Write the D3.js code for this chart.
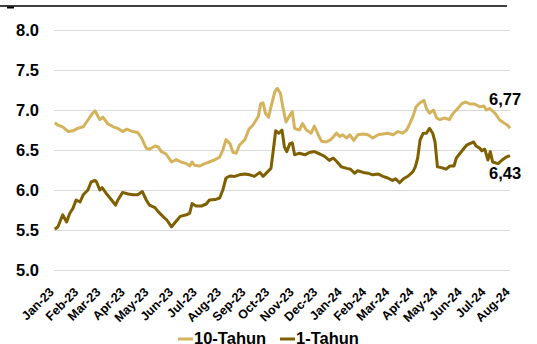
<!DOCTYPE html>
<html>
<head>
<meta charset="utf-8">
<script src="https://cdn.jsdelivr.net/npm/d3@7"></script>
<style>
  html, body { margin: 0; padding: 0; background: #fff; }
  svg { display: block; font-family: "Liberation Sans", Arial, sans-serif; }
</style>
</head>
<body>
<svg id="chart" width="537" height="344"></svg>
<script>
// Month labels on the x axis
const tickLabels = ["Jan-23","Feb-23","Mar-23","Apr-23","May-23","Jun-23","Jul-23","Aug-23",
  "Sep-23","Oct-23","Nov-23","Dec-23","Jan-24","Feb-24","Mar-24","Apr-24","May-24","Jun-24",
  "Jul-24","Aug-24"];
const yTicks = [5.0, 5.5, 6.0, 6.5, 7.0, 7.5, 8.0];

// 10-year yield (%)
const dates10 = ["2023-01-02","2023-01-06","2023-01-12","2023-01-19","2023-01-25","2023-01-31",
  "2023-02-07","2023-02-13","2023-02-19","2023-02-22","2023-02-28","2023-03-04","2023-03-10",
  "2023-03-17","2023-03-23","2023-03-29","2023-04-03","2023-04-11","2023-04-17","2023-04-22",
  "2023-04-28","2023-05-02","2023-05-09","2023-05-13","2023-05-17","2023-05-23","2023-05-30",
  "2023-06-05","2023-06-11","2023-06-18","2023-06-22","2023-06-25","2023-06-28","2023-07-05",
  "2023-07-11","2023-07-17","2023-07-24","2023-07-30","2023-08-03","2023-08-07","2023-08-12",
  "2023-08-16","2023-08-20","2023-08-24","2023-08-31","2023-09-05","2023-09-10","2023-09-17",
  "2023-09-20","2023-09-23","2023-09-26","2023-09-30","2023-10-03","2023-10-08","2023-10-11",
  "2023-10-15","2023-10-18","2023-10-22","2023-10-26","2023-10-30","2023-11-02","2023-11-08",
  "2023-11-12","2023-11-17","2023-11-23","2023-11-27","2023-12-02","2023-12-06","2023-12-12",
  "2023-12-18","2023-12-25","2023-12-29","2024-01-02","2024-01-07","2024-01-11","2024-01-16",
  "2024-01-21","2024-01-28","2024-02-03","2024-02-09","2024-02-16","2024-02-22","2024-02-28",
  "2024-03-06","2024-03-12","2024-03-18","2024-03-23","2024-03-27","2024-03-31","2024-04-04",
  "2024-04-09","2024-04-14","2024-04-17","2024-04-21","2024-04-26","2024-04-30","2024-05-04",
  "2024-05-10","2024-05-16","2024-05-21","2024-05-27","2024-06-01","2024-06-06","2024-06-11",
  "2024-06-17","2024-06-24","2024-06-29","2024-07-02","2024-07-06","2024-07-13","2024-07-19",
  "2024-07-24","2024-07-29","2024-08-01"];
const values10 = [6.84,6.81,6.79,6.73,6.74,6.77,
  6.79,6.875,6.96,6.99,6.88,6.91,6.83,
  6.79,6.77,6.73,6.76,6.73,6.72,6.65,
  6.52,6.51,6.55,6.54,6.48,6.45,6.35,
  6.38,6.35,6.33,6.30,6.35,6.31,6.30,
  6.33,6.35,6.38,6.41,6.50,6.63,6.58,
  6.47,6.46,6.56,6.63,6.76,6.81,6.92,
  7.08,7.09,6.96,6.91,7.04,7.23,7.27,
  7.21,7.04,6.85,6.92,6.98,6.77,6.75,
  6.83,6.75,6.71,6.80,6.69,6.61,6.60,
  6.63,6.71,6.67,6.69,6.65,6.69,6.62,
  6.69,6.70,6.69,6.65,6.69,6.70,6.71,
  6.69,6.73,6.71,6.75,6.83,6.92,7.04,
  7.09,7.12,7.02,6.96,7.00,6.90,6.88,
  6.90,6.88,6.96,7.02,7.08,7.10,7.075,
  7.075,7.04,7.05,7.00,7.02,6.96,6.875,
  6.84,6.81,6.77];

// 1-year yield (%)
const dates1 = ["2023-01-02","2023-01-06","2023-01-12","2023-01-17","2023-01-21","2023-01-25",
  "2023-01-29","2023-02-03","2023-02-07","2023-02-13","2023-02-17","2023-02-22","2023-02-24",
  "2023-02-28","2023-03-03","2023-03-08","2023-03-15","2023-03-20","2023-03-23","2023-03-29",
  "2023-04-05","2023-04-11","2023-04-17","2023-04-23","2023-04-28","2023-05-02","2023-05-09",
  "2023-05-13","2023-05-19","2023-05-24","2023-05-30","2023-06-04","2023-06-10","2023-06-18",
  "2023-06-22","2023-06-25","2023-06-30","2023-07-07","2023-07-13","2023-07-17","2023-07-24",
  "2023-07-30","2023-08-03","2023-08-07","2023-08-12","2023-08-18","2023-08-24","2023-08-31",
  "2023-09-06","2023-09-12","2023-09-19","2023-09-23","2023-09-29","2023-10-03","2023-10-06",
  "2023-10-09","2023-10-13","2023-10-17","2023-10-20","2023-10-23","2023-10-27","2023-10-30",
  "2023-11-02","2023-11-08","2023-11-15","2023-11-21","2023-11-27","2023-12-04","2023-12-10",
  "2023-12-16","2023-12-21","2023-12-26","2023-12-31","2024-01-07","2024-01-12","2024-01-17",
  "2024-01-21","2024-01-28","2024-02-03","2024-02-09","2024-02-16","2024-02-22","2024-02-28",
  "2024-03-05","2024-03-09","2024-03-14","2024-03-19","2024-03-25","2024-03-31","2024-04-03",
  "2024-04-06","2024-04-09","2024-04-13","2024-04-17","2024-04-21","2024-04-25","2024-04-28",
  "2024-05-01","2024-05-06","2024-05-12","2024-05-17","2024-05-22","2024-05-25","2024-05-29",
  "2024-06-02","2024-06-07","2024-06-11","2024-06-16","2024-06-19","2024-06-24","2024-06-26",
  "2024-06-30","2024-07-04","2024-07-07","2024-07-10","2024-07-17","2024-07-22","2024-07-27",
  "2024-08-01"];
const values1 = [5.51,5.54,5.69,5.60,5.71,5.77,
  5.875,5.85,5.94,6.00,6.10,6.12,6.10,
  6.00,6.03,5.96,5.875,5.81,5.875,5.97,
  5.95,5.94,5.94,5.98,5.875,5.81,5.78,
  5.73,5.67,5.625,5.54,5.60,5.67,5.69,
  5.71,5.83,5.80,5.80,5.825,5.875,5.88,
  5.90,6.00,6.15,6.175,6.17,6.19,6.20,
  6.19,6.17,6.22,6.17,6.23,6.27,6.50,
  6.74,6.71,6.75,6.54,6.48,6.58,6.59,
  6.44,6.46,6.44,6.47,6.48,6.45,6.42,
  6.37,6.40,6.35,6.29,6.27,6.26,6.21,
  6.24,6.22,6.21,6.19,6.20,6.17,6.15,
  6.12,6.14,6.09,6.14,6.175,6.23,6.29,
  6.40,6.625,6.71,6.71,6.77,6.71,6.60,
  6.29,6.28,6.26,6.30,6.30,6.40,6.45,
  6.50,6.56,6.58,6.60,6.55,6.52,6.49,
  6.51,6.375,6.48,6.35,6.33,6.375,6.41,
  6.43];

const seriesNames = ["10-Tahun", "1-Tahun"];
const seriesColors = ["#D5B35C", "#7F6000"];

const parseDate = d3.timeParse("%Y-%m-%d");
const parseTick = d3.timeParse("%b-%y");
const series = [
  dates10.map((d, i) => ({ date: parseDate(d), value: values10[i] })),
  dates1.map((d, i) => ({ date: parseDate(d), value: values1[i] }))
];

const svg = d3.select("#chart");
const plot = { left: 54, right: 510, top: 30, bottom: 270 };
const bigFont = "16.5px";

const x = d3.scaleTime()
  .domain([new Date(2023, 0, 1), new Date(2024, 7, 1)])
  .range([plot.left, plot.right]);
const y = d3.scaleLinear().domain([5, 8]).range([plot.bottom, plot.top]);

// Top rule
svg.append("line")
  .attr("x1", 0).attr("x2", 507).attr("y1", 6).attr("y2", 6)
  .attr("stroke", "#000").attr("stroke-width", 1.5);
svg.append("rect")
  .attr("x", 7).attr("y", 6.5).attr("width", 7).attr("height", 2)
  .attr("fill", "#000");

// Horizontal gridlines + y labels
const yAxis = d3.axisLeft(y)
  .tickValues(yTicks)
  .tickFormat(d3.format(".1f"))
  .tickSize(-(plot.right - plot.left))
  .tickPadding(15);
const gy = svg.append("g")
  .attr("transform", `translate(${plot.left},0)`)
  .call(yAxis);
gy.select(".domain").remove();
gy.selectAll(".tick line").attr("stroke", "#D9D9D9").attr("stroke-width", 1);
gy.selectAll(".tick text")
  .attr("fill", "#000")
  .style("font-size", bigFont)
  .style("font-weight", "bold");

// x axis month labels, rotated
const xAxis = d3.axisBottom(x)
  .tickValues(tickLabels.map(t => parseTick(t)))
  .tickFormat((d, i) => tickLabels[i])
  .tickSize(0)
  .tickPadding(0);
const gx = svg.append("g")
  .attr("transform", `translate(0,${plot.bottom})`)
  .call(xAxis);
gx.select(".domain").remove();
gx.selectAll(".tick text")
  .attr("fill", "#000")
  .style("font-size", "12.5px")
  .style("font-weight", "bold")
  .attr("text-anchor", "end")
  .attr("x", -16)
  .attr("y", 12)
  .attr("dy", "0.35em")
  .attr("transform", "rotate(-45)");

// Lines
const line = d3.line()
  .x(d => x(d.date))
  .y(d => y(d.value));

series.forEach((s, i) => {
  svg.append("path")
    .datum(s)
    .attr("fill", "none")
    .attr("stroke", seriesColors[i])
    .attr("stroke-width", 3)
    .attr("stroke-linejoin", "round")
    .attr("d", line);
});

// End-value labels
const last10 = series[0][series[0].length - 1];
const last1 = series[1][series[1].length - 1];
const fmtComma = v => d3.format(".2f")(v).replace(".", ",");
svg.append("text")
  .attr("x", 489).attr("y", y(last10.value) - 23)
  .style("font-size", bigFont).style("font-weight", "bold")
  .text(fmtComma(last10.value));
svg.append("text")
  .attr("x", 489).attr("y", y(last1.value) + 23.5)
  .style("font-size", bigFont).style("font-weight", "bold")
  .text(fmtComma(last1.value));

// Legend
const legendX = [178, 280];
seriesNames.forEach((name, i) => {
  const g = svg.append("g").attr("transform", `translate(${legendX[i]},339)`);
  g.append("line")
    .attr("x1", 0).attr("x2", 15).attr("y1", 0).attr("y2", 0)
    .attr("stroke", seriesColors[i]).attr("stroke-width", 3);
  g.append("text")
    .attr("x", 16).attr("y", 5)
    .style("font-size", bigFont).style("font-weight", "bold")
    .text(name);
});
</script>
</body>
</html>
